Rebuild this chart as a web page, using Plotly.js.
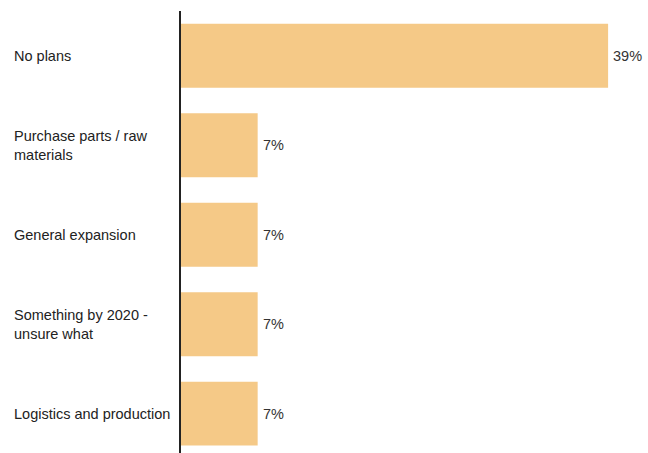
<!DOCTYPE html>
<html>
<head>
<meta charset="utf-8">
<script src="https://cdn.plot.ly/plotly-3.0.1.min.js"></script>
<style>html,body{margin:0;padding:0;background:#fff;}#chart{width:648px;height:453px;}</style>
</head>
<body>
<div id="chart"></div>
<script>
const categories = ["No plans", "Purchase parts / raw<br>materials", "General expansion", "Something by 2020 -<br>unsure what", "Logistics and production"];
const values = [39, 7, 7, 7, 7];
const valueLabels = ["39%", "7%", "7%", "7%", "7%"];

const W = 648, H = 453;
const marginL = 181, marginR = 18, marginT = 11, marginB = 0;
const plotW = W - marginL - marginR;
const FONT = 'Liberation Sans, Arial, sans-serif';

const trace = {
  type: 'bar',
  orientation: 'h',
  x: values,
  y: categories.map((c, i) => i),
  width: 0.715,
  marker: {color: '#F5C987'},
  hoverinfo: 'none'
};

const catAnn = categories.map((c, i) => ({
  xref: 'paper', yref: 'y',
  x: -(marginL - 12) / plotW, y: i,
  xanchor: 'left', yanchor: 'middle', align: 'left',
  text: c, showarrow: false,
  font: {family: FONT, size: 14.5, color: '#222222'}
}));

const valAnn = values.map((v, i) => ({
  xref: 'x', yref: 'y',
  x: v, y: i, xshift: 3,
  xanchor: 'left', yanchor: 'middle',
  text: valueLabels[i], showarrow: false,
  font: {family: FONT, size: 14.5, color: '#333333'}
}));

const layout = {
  width: W, height: H,
  margin: {l: marginL, r: marginR, t: marginT, b: marginB, pad: 0},
  paper_bgcolor: '#ffffff', plot_bgcolor: '#ffffff',
  showlegend: false,
  xaxis: {range: [0, 41], visible: false, fixedrange: true},
  yaxis: {range: [4.44, -0.5], showticklabels: false, showgrid: false, zeroline: false,
          showline: true, linecolor: '#222222', linewidth: 2, ticks: '', fixedrange: true},
  annotations: catAnn.concat(valAnn)
};

Plotly.newPlot('chart', [trace], layout, {displayModeBar: false, staticPlot: true});
</script>
</body>
</html>
